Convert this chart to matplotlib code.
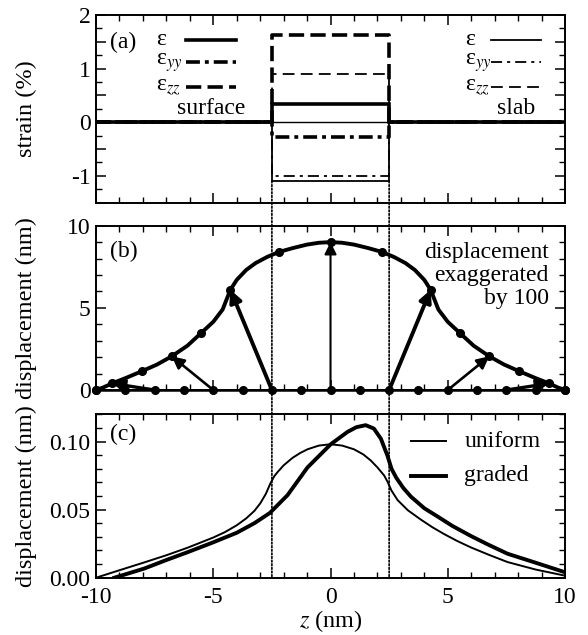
import matplotlib
matplotlib.use("Agg")
import matplotlib.pyplot as plt
from matplotlib.ticker import MultipleLocator, FuncFormatter, FixedLocator
from matplotlib.patches import ConnectionPatch

plt.rcParams['font.family'] = ['Liberation Serif', 'DejaVu Serif']
plt.rcParams['mathtext.fontset'] = 'stix'
plt.rcParams['axes.unicode_minus'] = False
plt.rcParams['lines.scale_dashes'] = False
FS = 17
LFS = 17.5

# ---------------- data ----------------
# panel (a): strain inside the island region [-2.5, 2.5], zero outside
region = [-2.5, 2.5]
z_limits = [-10, 10]
surface_strain = {'eps': 0.33, 'eyy': -0.28, 'ezz': 1.62}
slab_strain = {'eps': -1.10, 'eyy': -1.00, 'ezz': 0.90}

# panel (b): undisplaced grid points, displaced positions, arrows
grid_z = [-10, -8.75, -7.5, -6.25, -5, -3.75, -2.5, -1.25, 0,
          1.25, 2.5, 3.75, 5, 6.25, 7.5, 8.75, 10]
marker_z = [-10, -9.32, -8.05, -6.77, -5.53, -4.27, -2.2, 0,
            2.2, 4.27, 5.53, 6.77, 8.05, 9.32, 10]
marker_y = [0, 0.4, 1.14, 2.05, 3.45, 6.1, 8.4, 9.0,
            8.4, 6.1, 3.45, 2.05, 1.14, 0.4, 0]
curve_z = [-10, -9.7, -9.32, -8.7, -8.05, -7.4, -6.77, -6.1, -5.53, -5.0, -4.6,
           -4.27, -4.0, -3.6, -3.2, -2.7, -2.2, -1.6, -1.0, -0.5, 0,
           0.5, 1.0, 1.6, 2.2, 2.7, 3.2, 3.6, 4.0, 4.27, 4.6, 5.0, 5.53, 6.1,
           6.77, 7.4, 8.05, 8.7, 9.32, 9.7, 10]
curve_y = [0, 0.15, 0.4, 0.75, 1.14, 1.55, 2.05, 2.7, 3.45, 4.15, 4.9,
           6.1, 6.7, 7.3, 7.72, 8.1, 8.4, 8.64, 8.85, 8.96, 9.0,
           8.96, 8.85, 8.64, 8.4, 8.1, 7.72, 7.3, 6.7, 6.1, 4.9, 4.15, 3.45,
           2.7, 2.05, 1.55, 1.14, 0.75, 0.4, 0.15, 0]
arrow_start_z = [-7.5, -5, -2.5, 0, 2.5, 5, 7.5]
arrow_end_z = [-9.32, -6.77, -4.27, 0, 4.27, 6.77, 9.32]
arrow_end_y = [0.4, 2.05, 6.1, 9.0, 6.1, 2.05, 0.4]

# panel (c): displacement profiles
uniform_z = [-10, -9, -7.95, -7, -6.1, -5, -4.5, -4, -3.6, -3.25, -3.0, -2.76,
             -2.57, -2.4, -2.26, -2.0, -1.62, -1.3, -0.98, -0.5, 0.0, 0.5, 1.0,
             1.4, 1.72, 2.0, 2.29, 2.43, 2.6, 2.86, 3.3, 3.85, 4.35, 4.85,
             5.4, 5.98, 6.8, 7.55, 8.75, 10]
uniform_y = [0, 0.0055, 0.0112, 0.0165, 0.022, 0.0295, 0.0335, 0.0385, 0.0435,
             0.049, 0.0545, 0.0615, 0.069, 0.0745, 0.0775, 0.0825, 0.088,
             0.0915, 0.0943, 0.097, 0.098, 0.097, 0.0943, 0.0905, 0.086,
             0.081, 0.075, 0.0705, 0.064, 0.057, 0.0495, 0.0427, 0.037,
             0.032, 0.027, 0.0223, 0.0165, 0.0115, 0.006, 0.0015]
graded_z = [-9.22, -7.95, -7, -6.1, -5, -4, -3.25, -2.59, -1.83, -0.98, 0.01,
            0.72, 1.1, 1.5, 1.85, 2.15, 2.43, 2.6, 2.8, 3.1, 3.43, 4.0, 4.56,
            5.2, 5.98, 6.7, 7.55, 8.75, 10]
graded_y = [0, 0.0067, 0.013, 0.0187, 0.026, 0.033, 0.040, 0.0475, 0.0607,
            0.081, 0.098, 0.107, 0.1105, 0.112, 0.1095, 0.102, 0.0895,
            0.080, 0.0735, 0.066, 0.0595, 0.051, 0.045, 0.038, 0.0307,
            0.0245, 0.0176, 0.011, 0.004]

# ---------------- figure ----------------
fig = plt.figure(figsize=(5.88, 6.35), dpi=100)
L, R = 0.1633, 0.9609
ax_a = fig.add_axes([L, 0.681, R - L, 0.9764 - 0.681])
ax_b = fig.add_axes([L, 0.3858, R - L, 0.6446 - 0.3858])
ax_c = fig.add_axes([L, 0.0902, R - L, 0.3476 - 0.0902])


def style(ax):
    for s in ax.spines.values():
        s.set_linewidth(1.4)
    ax.tick_params(which='both', direction='in', top=True, right=True,
                   labelsize=FS)
    ax.tick_params(axis='y', pad=4)
    ax.tick_params(axis='x', pad=7)
    ax.tick_params(which='major', length=7, width=1.1)
    ax.tick_params(which='minor', length=4, width=1.0)
    ax.set_xlim(z_limits)
    ax.xaxis.set_major_locator(MultipleLocator(5))
    ax.xaxis.set_minor_locator(MultipleLocator(1))


def step(v):
    xs = [z_limits[0], region[0], region[0], region[1], region[1], z_limits[1]]
    ys = [0, 0, v, v, 0, 0]
    return xs, ys


thick, thin = 2.6, 1.3
dash_thick = (0, (11, 4.5))
dashdot_thick = (0, (10, 3.6, 2.8, 3.6))
dash_thin = (0, (8.5, 4.5))
dashdot_thin = (0, (8, 3.6, 2.2, 3.6))

# ---- panel (a)
style(ax_a)
ax_a.set_ylim(-1.5, 2)
ax_a.yaxis.set_major_locator(MultipleLocator(0.5))
ax_a.yaxis.set_minor_locator(MultipleLocator(0.25))
ax_a.yaxis.set_major_formatter(FuncFormatter(
    lambda v, p: f"{int(round(v))}" if abs(v - round(v)) < 1e-6 else ""))
ax_a.set_xticklabels([])
ax_a.axhline(0, color='k', lw=1.0)
for key, ls in [('ezz', dash_thin), ('eyy', dashdot_thin), ('eps', '-')]:
    xs, ys = step(slab_strain[key])
    ax_a.plot(xs, ys, color='k', lw=thin, ls=ls, solid_joinstyle='miter')
for key, ls in [('ezz', dash_thick), ('eyy', dashdot_thick), ('eps', '-')]:
    xs, ys = step(surface_strain[key])
    ax_a.plot(xs, ys, color='k', lw=thick, ls=ls, solid_joinstyle='miter')
ax_a.text(-9.4, 1.49, "(a)", fontsize=FS, va='center', ha='left')

rows = [1.54, 1.12, 0.65]
labels = ["ε", "ε$_{yy}$", "ε$_{zz}$"]
left_styles = ['-', dashdot_thick, dash_thick]
right_styles = ['-', dashdot_thin, dash_thin]
for yv, lab, lsl, lsr in zip(rows, labels, left_styles, right_styles):
    ax_a.text(-7.45, yv, lab, fontsize=FS, va='center', ha='left')
    ax_a.plot([-6.17, -4.04], [yv, yv], color='k', lw=thick, ls=lsl)
    ax_a.text(5.75, yv, lab, fontsize=FS, va='center', ha='left')
    ax_a.plot([6.84, 8.97], [yv, yv], color='k', lw=thin, ls=lsr)
ax_a.text(-5.1, 0.25, "surface", fontsize=FS, va='center', ha='center')
ax_a.text(7.93, 0.25, "slab", fontsize=FS, va='center', ha='center')
ax_a.set_ylabel("strain (%)", fontsize=LFS)

# ---- panel (b)
style(ax_b)
ax_b.set_ylim(0, 10)
ax_b.yaxis.set_major_locator(MultipleLocator(5))
ax_b.yaxis.set_minor_locator(MultipleLocator(1))
ax_b.set_xticklabels([])
ax_b.plot(curve_z, curve_y, color='k', lw=2.8, zorder=3)
ax_b.plot(marker_z, marker_y, ls='none', marker='o', ms=5.5, color='k',
          zorder=4, clip_on=False)
ax_b.plot(grid_z, [0] * len(grid_z), ls='-', lw=1.8, marker='o', ms=5.5,
          color='k', zorder=4, clip_on=False)
arrow_lw = [2.4, 1.9, 2.8, 1.5, 2.8, 1.9, 2.4]
for z0, z1, y1, lw in zip(arrow_start_z, arrow_end_z, arrow_end_y, arrow_lw):
    ax_b.annotate("", xy=(z1, y1), xytext=(z0, 0),
                  arrowprops=dict(arrowstyle='-|>', color='k', lw=lw,
                                  mutation_scale=18, shrinkA=0, shrinkB=0),
                  zorder=5)
ax_b.text(-9.4, 8.45, "(b)", fontsize=FS, va='center', ha='left')
ax_b.text(9.3, 8.34, "displacement", fontsize=FS, va='center', ha='right')
ax_b.text(9.3, 6.94, "exaggerated", fontsize=FS, va='center', ha='right')
ax_b.text(9.3, 5.54, "by 100", fontsize=FS, va='center', ha='right')
ax_b.set_ylabel("displacement (nm)", fontsize=LFS)

# ---- panel (c)
style(ax_c)
ax_c.set_ylim(0, 0.12)
ax_c.yaxis.set_major_locator(FixedLocator([0, 0.05, 0.10]))
ax_c.yaxis.set_minor_locator(MultipleLocator(0.01))
ax_c.yaxis.set_major_formatter(FuncFormatter(lambda v, p: f"{v:.2f}"))
ax_c.plot(uniform_z, uniform_y, color='k', lw=1.4)
ax_c.plot(graded_z, graded_y, color='k', lw=2.8)
ax_c.plot([3.43, 4.92], [0.1003, 0.1003], color='k', lw=1.4)
ax_c.plot([3.43, 4.92], [0.075, 0.075], color='k', lw=2.8)
ax_c.text(5.7, 0.1003, "uniform", fontsize=FS, va='center', ha='left')
ax_c.text(5.7, 0.075, "graded", fontsize=FS, va='center', ha='left')
ax_c.text(-9.4, 0.105, "(c)", fontsize=FS, va='center', ha='left')
ax_c.set_ylabel("displacement (nm)", fontsize=LFS)
ax_c.set_xlabel("$z$ (nm)", fontsize=LFS, labelpad=0)

for ax in (ax_a, ax_b, ax_c):
    ax.yaxis.set_label_coords(-0.125, 0.5)

# dotted guide lines through all panels
for zv in region:
    con = ConnectionPatch(xyA=(zv, slab_strain['eps']), coordsA=ax_a.transData,
                          xyB=(zv, 0), coordsB=ax_c.transData,
                          color='k', lw=1.2, linestyle=(0, (1.2, 1.4)),
                          zorder=1)
    fig.add_artist(con)

fig.savefig("out.png", dpi=100)
